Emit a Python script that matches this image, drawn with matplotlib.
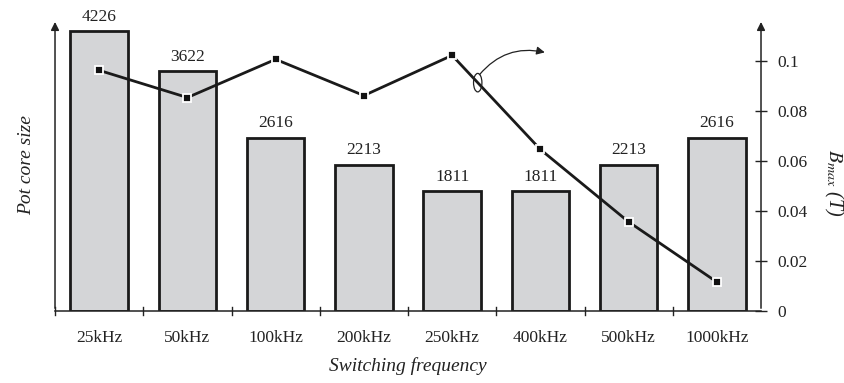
import matplotlib
matplotlib.use("Agg")
import matplotlib.pyplot as plt
from matplotlib.patches import Ellipse
import numpy as np

categories = ["25kHz", "50kHz", "100kHz", "200kHz", "250kHz", "400kHz", "500kHz", "1000kHz"]
core_size = [4226, 3622, 2616, 2213, 1811, 1811, 2213, 2616]
bmax = [0.0964, 0.0855, 0.1008, 0.0863, 0.1024, 0.0647, 0.0357, 0.0116]
right_ticks = [0, 0.02, 0.04, 0.06, 0.08, 0.1]
right_ticklabels = ["0", "0.02", "0.04", "0.06", "0.08", "0.1"]

plt.rcParams['font.family'] = ['Liberation Serif', 'DejaVu Serif']
plt.rcParams['mathtext.fontset'] = 'stix'

fig = plt.figure(figsize=(8.45, 3.83), dpi=100)
ax = fig.add_axes([0.0651, 0.188, 0.8355, 0.762])
x = np.arange(len(categories))
ax.bar(x, core_size, width=0.65, color="#d4d5d7", edgecolor="#1a1a1a", linewidth=2, zorder=2)
for xi, v in zip(x, core_size):
    ax.text(xi, v + 100, str(v), ha="center", va="bottom", fontsize=12.5, color="#222222")
ax.set_xlim(-0.5, len(categories) - 0.5)
ax.set_ylim(0, 4410)
for s in ax.spines.values():
    s.set_visible(False)
ax.set_yticks([])
ax.set_xticks(x)
ax.set_xticklabels(categories, fontsize=12.5, color="#222222")
ax.tick_params(axis="x", length=0, pad=14)
# bottom axis line and boundary ticks
ax.plot([-0.5, len(categories) - 0.5], [0, 0], color="#222222", lw=1.1, clip_on=False, zorder=3)
for b in np.arange(-0.5, len(categories) - 0.4, 1.0)[:-1]:
    ax.plot([b, b], [-55, 55], color="#222222", lw=1, clip_on=False, zorder=3)
# left axis with arrow
ax.annotate("", xy=(0, 1.0), xytext=(0, 0), xycoords="axes fraction",
            arrowprops=dict(arrowstyle="-|>", color="#222222", lw=1.1, mutation_scale=12))
ax.set_xlabel("Switching frequency", fontsize=14, style="italic", labelpad=8, color="#222222")
ax.set_ylabel("Pot core size", fontsize=14, style="italic", labelpad=14, color="#222222")

ax2 = ax.twinx()
ax2.set_ylim(0, 0.1169)
for s in ax2.spines.values():
    s.set_visible(False)
ax2.plot(x, bmax, color="#1a1a1a", lw=2, marker="s", markersize=6,
         markerfacecolor="#111111", markeredgecolor="white", markeredgewidth=1.3, zorder=4)
ax2.annotate("", xy=(1, 1.0), xytext=(1, 0), xycoords="axes fraction",
             arrowprops=dict(arrowstyle="-|>", color="#222222", lw=1.1, mutation_scale=12))
ax2.set_yticks(right_ticks)
ax2.set_yticklabels(right_ticklabels, fontsize=12.5, color="#222222")
ax2.tick_params(axis="y", direction="inout", length=8, width=1, pad=8, colors="#222222")
ax2.set_ylabel(r"$B_{max}$ (T)", fontsize=14.5, style="italic", rotation=270, color="#222222",
               va="center", ha="center")
ax2.yaxis.set_label_coords(1.102, 0.44)

# ellipse and curved arrow
ex = 4.29
ey = bmax[4] + (bmax[5] - bmax[4]) * (ex - 4)
ell = Ellipse((ex, ey), width=0.095, height=0.0074, fill=False, edgecolor="#222222", lw=0.9, zorder=5)
ax2.add_patch(ell)
ax2.annotate("", xy=(5.05, 0.1036), xytext=(ex + 0.02, ey + 0.0032),
             arrowprops=dict(arrowstyle="-|>", color="#222222", lw=0.9, mutation_scale=12,
                             connectionstyle="arc3,rad=-0.3", shrinkA=0, shrinkB=0))

fig.savefig("out.png", dpi=100)
